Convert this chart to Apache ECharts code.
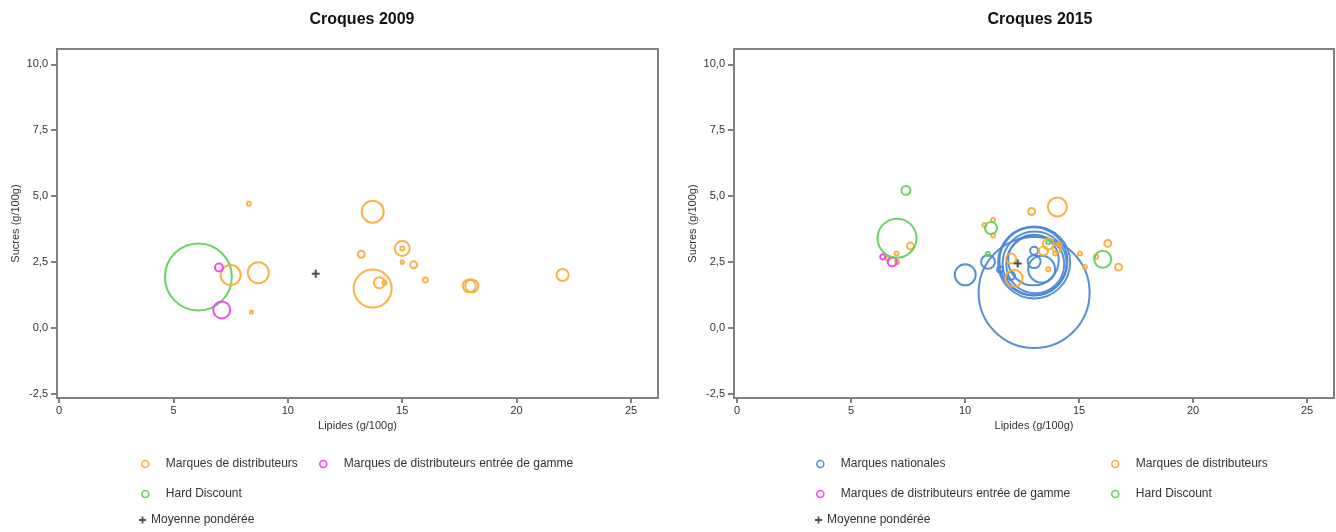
<!DOCTYPE html>
<html>
<head>
<meta charset="utf-8">
<script src="https://cdn.jsdelivr.net/npm/echarts@6/dist/echarts.min.js"></script>
<style>html,body{margin:0;padding:0;background:#fff;}#c{width:1336px;height:532px;}</style>
</head>
<body>
<div id="c"></div>
<script>
// ---- Data: [lipides, sucres, poids] ----
const titles = ['Croques 2009', 'Croques 2015'];
const xTicks = [0, 5, 10, 15, 20, 25];
const yTicks = [-2.5, 0, 2.5, 5, 7.5, 10];

const mdd2009 = [[7.50,2.01,25],[8.71,2.10,27.5],[8.30,4.71,1],[8.41,0.61,0.6],[13.71,4.41,30],[13.21,2.80,3],
  [15.00,3.02,14],[15.00,3.02,1],[15.00,2.50,0.6],[15.50,2.40,3],[16.01,1.82,1.6],[13.71,1.50,90],[14.00,1.72,7.5],
  [14.22,1.72,1],[17.93,1.60,10.5],[18.04,1.60,10.5],[22.01,2.01,9]];
const mddeg2009 = [[6.99,2.30,4],[7.11,0.69,18]];
const hd2009 = [[6.09,1.94,280]];
const moy2009 = [[11.22,2.06]];

const mn2015 = [[10.01,2.02,27.5],[11.01,2.51,12],[11.54,2.22,2.25],[12.02,1.98,4],[13.03,1.35,770],
  [13.03,2.49,324],[13.00,2.53,290],[13.05,2.45,256],[13.08,2.42,210],[13.00,2.58,160],[13.03,2.93,4],
  [13.03,2.52,10.5],[13.36,2.23,45]];
const mdd2015 = [[7.60,3.11,3],[7.00,2.83,1],[6.61,2.64,1],[7.02,2.51,1],[12.92,4.42,3],[14.05,4.59,22.5],
  [10.85,3.91,1],[11.23,4.10,1],[11.23,3.51,1],[12.02,2.64,6.25],[12.15,1.89,18],[13.44,2.93,5],[13.65,3.19,7.5],
  [14.02,3.02,4],[13.95,2.83,1],[14.14,3.18,1],[13.65,2.23,1],[15.04,2.83,1],[15.26,2.32,1],[16.26,3.21,3],
  [15.75,2.70,1],[16.73,2.31,3]];
const mddeg2015 = [[6.39,2.70,1.6],[6.81,2.51,5]];
const hd2015 = [[7.41,5.22,5],[7.02,3.41,95],[11.14,3.79,9],[11.00,2.81,1],[13.65,3.25,1],[16.04,2.61,18]];
const moy2015 = [[12.31,2.45]];

const NAMES = {mn:'Marques nationales', mdd:'Marques de distributeurs', mddeg:'Marques de distributeurs entrée de gamme', hd:'Hard Discount', moy:'Moyenne pondérée'};
const COLORS = {mn:'#4a87d2', mdd:'#fdaa35', mddeg:'#ee3dea', hd:'#5dcf55', moy:'#222'};
const FONT = '"Liberation Sans", Arial, sans-serif';
const PLUS = 'path://M2.6,0H4.4V2.6H7V4.4H4.4V7H2.6V4.4H0V2.6H2.6Z';

function bubble(key, data, idx) {
  return {
    type: 'scatter', name: NAMES[key], xAxisIndex: idx, yAxisIndex: idx, data: data,
    symbol: 'circle',
    symbolSize: v => 4 * Math.sqrt(v[2]),
    itemStyle: {color: 'rgba(255,255,255,0)', borderColor: COLORS[key], borderWidth: 2, opacity: 0.92},
    emphasis: {disabled: true}, silent: true
  };
}
function mean(data, idx) {
  return {type:'scatter', name: NAMES.moy, xAxisIndex: idx, yAxisIndex: idx, data: data,
    symbol: PLUS, symbolSize: 8, itemStyle: {color: COLORS.moy}, silent: true};
}
function xAx(idx, min, max) {
  return {gridIndex: idx, type: 'value', min: min, max: max,
    name: 'Lipides (g/100g)', nameLocation: 'middle', nameGap: 22,
    nameTextStyle: {fontFamily: FONT, fontSize: 11, color: '#333'},
    axisLine: {onZero: false, lineStyle: {color: '#808080', width: 2}},
    axisTick: {show: true, customValues: xTicks, length: 5, lineStyle: {color: '#808080', width: 2}},
    axisLabel: {customValues: xTicks, fontFamily: FONT, fontSize: 11, color: '#333', margin: 7},
    splitLine: {show: false}};
}
function yAx(idx) {
  return {gridIndex: idx, type: 'value', min: -2.65, max: 10.58,
    name: 'Sucres (g/100g)', nameLocation: 'middle', nameGap: 36,
    nameTextStyle: {fontFamily: FONT, fontSize: 11, color: '#333'},
    axisLine: {onZero: false, lineStyle: {color: '#808080', width: 2}},
    axisTick: {show: true, customValues: yTicks, length: 6, lineStyle: {color: '#808080', width: 2}},
    axisLabel: {customValues: yTicks, fontFamily: FONT, fontSize: 11, color: '#333', margin: 9,
      formatter: v => v.toFixed(1).replace('.', ',')},
    splitLine: {show: false}};
}
function leg(name, left, top, isPlus) {
  return {left: left - 5, top: top - 4, data: [name], selectedMode: false, itemWidth: 7, itemHeight: 7,
    icon: isPlus ? PLUS : 'circle',
    itemStyle: isPlus ? {color: '#222', borderWidth: 0} : {borderWidth: 1.6},
    textStyle: {fontFamily: FONT, fontSize: 12, color: '#333', padding: isPlus ? [0,0,0,0] : [0,0,0,12]}};
}

const option = {
  animation: false,
  backgroundColor: '#fff',
  title: [
    {text: titles[0], left: 357, top: 7, textAlign: 'center', textStyle: {fontFamily: FONT, fontSize: 16, fontWeight: 'bold', color: '#111'}},
    {text: titles[1], left: 1035, top: 7, textAlign: 'center', textStyle: {fontFamily: FONT, fontSize: 16, fontWeight: 'bold', color: '#111'}}
  ],
  grid: [
    {left: 57, top: 49, width: 601, height: 349, show: true, borderColor: '#808080', borderWidth: 2, backgroundColor: '#fff'},
    {left: 734, top: 49, width: 600, height: 349, show: true, borderColor: '#808080', borderWidth: 2, backgroundColor: '#fff'}
  ],
  xAxis: [xAx(0, -0.09, 26.18), xAx(1, -0.13, 26.18)],
  yAxis: [yAx(0), yAx(1)],
  legend: [
    leg(NAMES.mdd, 141, 457), leg(NAMES.mddeg, 319, 457),
    leg(NAMES.hd, 141, 487), leg(NAMES.moy, 139, 513, true),
    leg(NAMES.mn, 816, 457), leg(NAMES.mdd, 1111, 457),
    leg(NAMES.mddeg, 816, 487), leg(NAMES.hd, 1111, 487), leg(NAMES.moy, 815, 513, true)
  ],
  series: [
    bubble('hd', hd2009, 0), bubble('mdd', mdd2009, 0), bubble('mddeg', mddeg2009, 0), mean(moy2009, 0),
    bubble('mn', mn2015, 1), bubble('mdd', mdd2015, 1), bubble('mddeg', mddeg2015, 1), bubble('hd', hd2015, 1), mean(moy2015, 1)
  ]
};
const chart = echarts.init(document.getElementById('c'), null, {renderer: 'canvas'});
chart.setOption(option);
</script>
</body>
</html>
